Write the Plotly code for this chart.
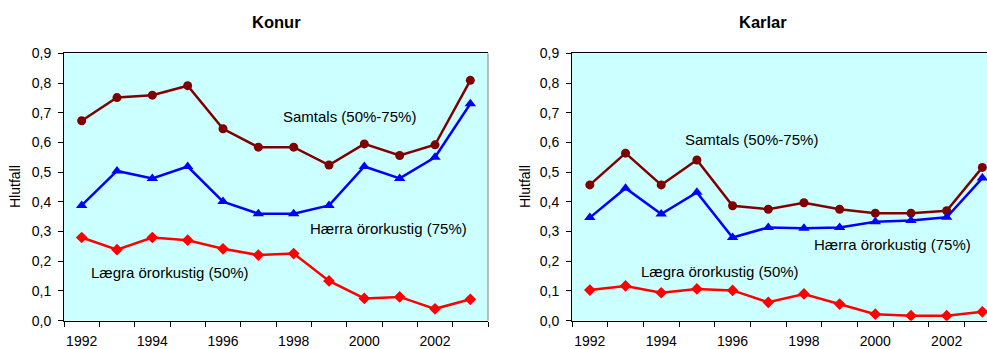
import plotly.graph_objects as go

# Survey years (one category per year)
years = [1992, 1993, 1994, 1995, 1996, 1997, 1998, 1999, 2000, 2001, 2002, 2003]

# Konur (women)
konur_samtals = [0.673, 0.751, 0.759, 0.791, 0.646, 0.584, 0.584, 0.524, 0.595, 0.556, 0.592, 0.809]
konur_haerra = [0.388, 0.504, 0.479, 0.519, 0.401, 0.360, 0.360, 0.388, 0.519, 0.479, 0.550, 0.730]
konur_laegra = [0.280, 0.239, 0.280, 0.271, 0.242, 0.221, 0.226, 0.134, 0.075, 0.080, 0.040, 0.072]

# Karlar (men)
karlar_samtals = [0.457, 0.564, 0.457, 0.541, 0.387, 0.375, 0.397, 0.375, 0.362, 0.362, 0.370, 0.516]
karlar_haerra = [0.347, 0.446, 0.359, 0.432, 0.280, 0.314, 0.311, 0.314, 0.333, 0.337, 0.348, 0.480]
karlar_laegra = [0.103, 0.117, 0.094, 0.107, 0.102, 0.062, 0.090, 0.056, 0.022, 0.017, 0.017, 0.030]

# Axis ticks
year_ticks = [1992, 1994, 1996, 1998, 2000, 2002]
year_labels = ["1992", "1994", "1996", "1998", "2000", "2002"]
y_ticks = [0.0, 0.1, 0.2, 0.3, 0.4, 0.5, 0.6, 0.7, 0.8, 0.9]

series_names = ["Samtals (50%-75%)", "Hærra örorkustig (75%)", "Lægra örorkustig (50%)"]
panel_titles = ["Konur", "Karlar"]
y_title = "Hlutfall"

W, H = 987, 349
FONT = "Liberation Sans, Arial, sans-serif"
BG = "#CCFFFF"

styles = [
    dict(color="#800000", symbol="circle", size=9),
    dict(color="#0000FF", symbol="triangle-up", size=10),
    dict(color="#FF0000", symbol="diamond", size=9),
]

fig = go.Figure()

panels = [
    ("x", "y", [konur_samtals, konur_haerra, konur_laegra]),
    ("x2", "y2", [karlar_samtals, karlar_haerra, karlar_laegra]),
]
for xa, ya, data in panels:
    for name, vals, st in zip(series_names, data, styles):
        fig.add_trace(go.Scatter(
            x=years, y=vals, name=name, xaxis=xa, yaxis=ya,
            mode="lines+markers",
            line=dict(color=st["color"], width=2.5),
            marker=dict(color=st["color"], symbol=st["symbol"], size=st["size"],
                        line=dict(width=0)),
            showlegend=False,
        ))

y_dom = [1 - 320.7 / H, 1 - 53.3 / H]


def xaxis_cfg(domain, rng, anchor):
    return dict(
        domain=domain, range=rng, anchor=anchor, automargin=False,
        showgrid=False, zeroline=False,
        showline=True, linecolor="black", linewidth=1, mirror=True,
        tickmode="array", tickvals=year_ticks, ticktext=year_labels,
        ticks="", ticklabelstandoff=7,
        tickfont=dict(family=FONT, size=14, color="black"),
        minor=dict(tick0=1991.5, dtick=1, ticks="outside", ticklen=5,
                   tickcolor="black", tickwidth=1, showgrid=False),
    )


def yaxis_cfg(anchor):
    return dict(
        domain=y_dom, range=[0, 0.9], anchor=anchor, automargin=False,
        showgrid=False, zeroline=False,
        showline=True, linecolor="black", linewidth=1,
        tickmode="array", tickvals=y_ticks, tickformat=".1f",
        ticks="outside", ticklen=5, tickcolor="black",
        ticklabelstandoff=4,
        tickfont=dict(family=FONT, size=14, color="black"),
    )


fig.update_layout(
    width=W, height=H,
    margin=dict(l=0, r=0, t=0, b=0, pad=0),
    paper_bgcolor="white", plot_bgcolor=BG,
    separators=", ",
    xaxis=xaxis_cfg([64 / W, 488 / W], [1991.5, 2003.5], "y"),
    yaxis=yaxis_cfg("x"),
    xaxis2=xaxis_cfg([572 / W, 1.0], [1991.5, 2003.13], "y2"),
    yaxis2=yaxis_cfg("x2"),
)

# Gray right-hand border of the Konur plot area
fig.add_shape(type="line", xref="paper", yref="paper",
              x0=488 / W, x1=488 / W, y0=y_dom[0], y1=y_dom[1],
              line=dict(color="#808080", width=1))

# Panel titles and y-axis labels
for title, cx, lx in zip(panel_titles, [276, 763], [15, 525]):
    fig.add_annotation(text=f"<b>{title}</b>", xref="paper", yref="paper",
                       x=cx / W, y=1 - 22.5 / H, showarrow=False,
                       xanchor="center", yanchor="middle",
                       font=dict(family=FONT, size=16.5, color="black"))
    fig.add_annotation(text=y_title, xref="paper", yref="paper",
                       x=lx / W, y=1 - 187 / H, textangle=-90, showarrow=False,
                       xanchor="center", yanchor="middle",
                       font=dict(family=FONT, size=14, color="black"))

# Series labels placed inside each plot
label_pos = [
    ("x", "y", [(1999.58, 0.686), (2000.68, 0.309), (1994.49, 0.161)]),
    ("x2", "y2", [(1996.52, 0.609), (2000.49, 0.255), (1995.66, 0.164)]),
]
for xr, yr, pos in label_pos:
    for name, (lx, ly) in zip(series_names, pos):
        fig.add_annotation(text=name, xref=xr, yref=yr, x=lx, y=ly,
                           showarrow=False, xanchor="center", yanchor="middle",
                           font=dict(family=FONT, size=15, color="black"))

fig.write_html("out.html")
